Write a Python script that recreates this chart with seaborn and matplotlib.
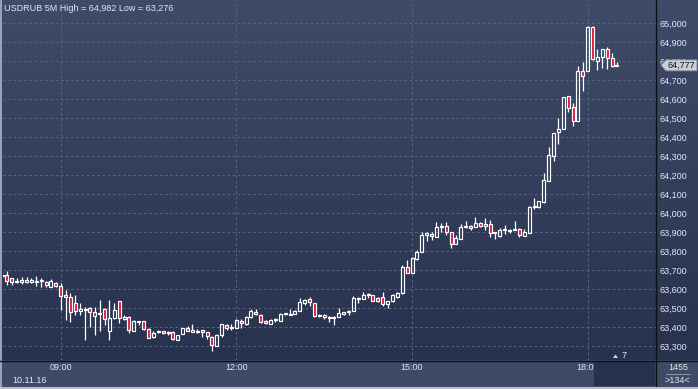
import numpy as np
import pandas as pd
import matplotlib
matplotlib.use("Agg")
import matplotlib.pyplot as plt
import seaborn as sns
from matplotlib.colors import LinearSegmentedColormap
from matplotlib.patches import Rectangle, Polygon

# ---------------- data ----------------
opens = [63.668, 63.674, 63.656, 63.639, 63.637, 63.639, 63.639, 63.644, 63.642, 63.635,
         63.612, 63.630, 63.616, 63.569, 63.556, 63.525, 63.486, 63.495, 63.502, 63.481,
         63.472, 63.493, 63.381, 63.446, 63.535, 63.444, 63.451, 63.381, 63.430, 63.432,
         63.388, 63.346, 63.374, 63.379, 63.370, 63.375, 63.332, 63.363, 63.393, 63.383,
         63.374, 63.384, 63.372, 63.349, 63.302, 63.358, 63.411, 63.395, 63.393, 63.432,
         63.416, 63.451, 63.481, 63.463, 63.432, 63.414, 63.435, 63.433, 63.467, 63.463,
         63.467, 63.486, 63.525, 63.546, 63.525, 63.458, 63.463, 63.454, 63.446, 63.454,
         63.469, 63.479, 63.486, 63.547, 63.547, 63.570, 63.569, 63.551, 63.556, 63.519,
         63.539, 63.560, 63.577, 63.718, 63.686, 63.758, 63.796, 63.884, 63.889, 63.875,
         63.925, 63.932, 63.898, 63.835, 63.861, 63.928, 63.932, 63.925, 63.946, 63.933,
         63.940, 63.893, 63.881, 63.909, 63.905, 63.909, 63.914, 63.881, 63.895, 64.030,
         64.030, 64.056, 64.170, 64.302, 64.425, 64.442, 64.616, 64.556, 64.486, 64.747,
         64.749, 64.980, 64.802, 64.819, 64.861, 64.814, 64.772]
highs = [63.676, 63.695, 63.657, 63.656, 63.665, 63.665, 63.656, 63.668, 63.656, 63.642,
         63.651, 63.639, 63.630, 63.595, 63.577, 63.569, 63.525, 63.507, 63.507, 63.507,
         63.542, 63.498, 63.542, 63.528, 63.535, 63.463, 63.458, 63.437, 63.430, 63.432,
         63.393, 63.381, 63.384, 63.379, 63.381, 63.381, 63.358, 63.397, 63.407, 63.416,
         63.388, 63.384, 63.372, 63.353, 63.363, 63.414, 63.414, 63.414, 63.440, 63.440,
         63.458, 63.493, 63.493, 63.467, 63.435, 63.440, 63.446, 63.476, 63.476, 63.495,
         63.490, 63.551, 63.547, 63.556, 63.525, 63.468, 63.468, 63.458, 63.458, 63.498,
         63.481, 63.490, 63.563, 63.560, 63.583, 63.577, 63.569, 63.556, 63.583, 63.539,
         63.572, 63.583, 63.726, 63.753, 63.770, 63.805, 63.898, 63.898, 63.898, 63.951,
         63.946, 63.954, 63.902, 63.884, 63.942, 63.960, 63.937, 63.981, 63.951, 63.972,
         63.963, 63.902, 63.919, 63.937, 63.916, 63.960, 63.919, 63.914, 64.037, 64.077,
         64.063, 64.209, 64.349, 64.419, 64.498, 64.609, 64.616, 64.577, 64.774, 64.796,
         64.982, 64.982, 64.861, 64.861, 64.872, 64.844, 64.796]
lows = [63.666, 63.621, 63.621, 63.630, 63.626, 63.633, 63.630, 63.616, 63.612, 63.612,
        63.609, 63.609, 63.490, 63.437, 63.428, 63.463, 63.463, 63.332, 63.402, 63.358,
        63.381, 63.411, 63.332, 63.440, 63.419, 63.437, 63.370, 63.381, 63.411, 63.384,
        63.340, 63.340, 63.367, 63.363, 63.356, 63.332, 63.332, 63.363, 63.381, 63.374,
        63.367, 63.346, 63.337, 63.276, 63.302, 63.346, 63.384, 63.384, 63.393, 63.393,
        63.411, 63.446, 63.463, 63.423, 63.416, 63.414, 63.428, 63.432, 63.461, 63.461,
        63.467, 63.486, 63.516, 63.512, 63.454, 63.451, 63.440, 63.428, 63.411, 63.454,
        63.463, 63.463, 63.486, 63.528, 63.547, 63.553, 63.537, 63.530, 63.512, 63.502,
        63.533, 63.555, 63.574, 63.686, 63.686, 63.753, 63.793, 63.854, 63.858, 63.875,
        63.902, 63.884, 63.818, 63.835, 63.861, 63.919, 63.911, 63.925, 63.928, 63.911,
        63.875, 63.861, 63.875, 63.888, 63.893, 63.909, 63.875, 63.881, 63.893, 64.020,
        64.025, 64.051, 64.170, 64.276, 64.363, 64.442, 64.533, 64.460, 64.486, 64.642,
        64.749, 64.805, 64.753, 64.761, 64.758, 64.767, 64.772]
closes = [63.674, 63.642, 63.639, 63.644, 63.647, 63.647, 63.645, 63.639, 63.647, 63.621,
          63.642, 63.616, 63.565, 63.556, 63.477, 63.486, 63.495, 63.490, 63.477, 63.458,
          63.469, 63.440, 63.446, 63.490, 63.446, 63.454, 63.384, 63.430, 63.425, 63.388,
          63.344, 63.370, 63.379, 63.367, 63.375, 63.335, 63.356, 63.393, 63.381, 63.374,
          63.381, 63.374, 63.353, 63.305, 63.360, 63.414, 63.397, 63.402, 63.437, 63.419,
          63.451, 63.484, 63.469, 63.428, 63.419, 63.437, 63.440, 63.469, 63.472, 63.469,
          63.484, 63.530, 63.542, 63.530, 63.458, 63.461, 63.451, 63.446, 63.453, 63.472,
          63.477, 63.484, 63.551, 63.554, 63.569, 63.572, 63.539, 63.539, 63.519, 63.537,
          63.569, 63.577, 63.718, 63.686, 63.761, 63.793, 63.884, 63.893, 63.879, 63.928,
          63.932, 63.898, 63.835, 63.867, 63.925, 63.933, 63.919, 63.946, 63.932, 63.942,
          63.893, 63.898, 63.911, 63.914, 63.911, 63.914, 63.884, 63.898, 64.030, 64.035,
          64.063, 64.174, 64.305, 64.419, 64.442, 64.609, 64.551, 64.484, 64.747, 64.723,
          64.978, 64.809, 64.823, 64.861, 64.814, 64.774, 64.778]

y_ticks = [63.3, 63.4, 63.5, 63.6, 63.7, 63.8, 63.9, 64.0, 64.1, 64.2, 64.3,
           64.4, 64.5, 64.6, 64.7, 64.8, 64.9, 65.0]
y_labels = ["63,300", "63,400", "63,500", "63,600", "63,700", "63,800", "63,900",
            "64,000", "64,100", "64,200", "64,300", "64,400", "64,500", "64,600",
            "64,700", "64,800", "64,900", "65,000"]
x_tick_pos = [12, 48, 84, 120]          # candle index of 09:00, 12:00, 15:00, 18:00
x_tick_labels = ["09:00", "12:00", "15:00", "18:00"]
title_text = "USDRUB 5M High = 64,982 Low = 63,276"
date_text = "10.11.16"
last_price_text = "64,777"
last_price = 64.777
corner_top = "1455"
corner_bottom = ">134<"
badge_text = "7"

df = pd.DataFrame({"open": opens, "high": highs, "low": lows, "close": closes})
df["i"] = np.arange(len(df))

# ---------------- styling ----------------
sns.set_theme(style="dark")
plt.rcParams['font.family'] = ['Liberation Sans', 'DejaVu Sans']

W, H = 698, 389
fig = plt.figure(figsize=(W / 100, H / 100), dpi=100)
fig.patch.set_facecolor("#3a4763")

TXT = "#e2e8f2"
RED = "#e0143c"
FS = 6.5

# background axes in pixel coordinates
bg = fig.add_axes([0, 0, 1, 1], zorder=0)
bg.set_xlim(0, W)
bg.set_ylim(H, 0)
bg.axis("off")
grad = np.linspace(0, 1, 256).reshape(-1, 1)
cmap = LinearSegmentedColormap.from_list("bg", ["#3f4b68", "#28324f"])
bg.imshow(grad, aspect="auto", cmap=cmap, extent=(0, W, 360, 0), origin="upper")
bg.add_patch(Rectangle((0, 360), W, 29, color="#3d4b66", lw=0))

# main chart axes
L_PX, R_PX, T_PX, B_PX = 3, 656, 0, 360
ax = fig.add_axes([L_PX / W, 1 - B_PX / H, (R_PX - L_PX) / W, (B_PX - T_PX) / H], zorder=1)
ax.set_facecolor("none")
for s in ax.spines.values():
    s.set_visible(False)

px_per_candle = 4.88
x0_px = 2.1
ax.set_xlim((L_PX - x0_px) / px_per_candle, (R_PX - x0_px) / px_per_candle)
ax.set_ylim(65.0 - (360 - 23) / 190.0, 65.0 + 23 / 190.0)

ax.set_yticks(y_ticks)
ax.set_yticklabels(y_labels)
ax.yaxis.tick_right()
ax.set_xticks(x_tick_pos)
ax.set_xticklabels(x_tick_labels)
ax.tick_params(axis="y", length=0, pad=2.3, labelsize=FS, labelcolor=TXT)
ax.tick_params(axis="x", length=0, pad=2.0, labelsize=FS, labelcolor=TXT)
ax.grid(True, color="#57647f", linestyle=(0, (2.5, 2.5)), linewidth=0.75)
ax.set_axisbelow(True)

# candles
x = df["i"].to_numpy()
o = df["open"].to_numpy(); c = df["close"].to_numpy()
h = df["high"].to_numpy(); lo = df["low"].to_numpy()
top = np.maximum(o, c); bot = np.minimum(o, c)
up = c >= o
ax.vlines(x, top, h, color="white", lw=0.9, zorder=3)
ax.vlines(x, lo, bot, color="white", lw=0.9, zorder=3)
body = np.maximum(top - bot, 0.002)
ax.bar(x[up], body[up], bottom=bot[up], width=0.62, facecolor="none",
       edgecolor="white", linewidth=0.85, zorder=4)
ax.bar(x[~up], body[~up], bottom=bot[~up], width=0.62, facecolor=RED,
       edgecolor="white", linewidth=0.85, zorder=4)

# overlay axes in pixel coordinates
ov = fig.add_axes([0, 0, 1, 1], zorder=5)
ov.set_xlim(0, W)
ov.set_ylim(H, 0)
ov.axis("off")
ov.patch.set_alpha(0)

# dark box bottom right of plot
ov.add_patch(Rectangle((593.5, 361), 61, 25, color="#27314b", lw=0))
# frame lines
ov.plot([0, W], [360.5, 360.5], color="#0b0f18", lw=1.0)
ov.plot([656, 656], [0, 386], color="#0b0f18", lw=1.0)
ov.add_patch(Rectangle((0, 0), 2.2, H, color="#9aa3b5", lw=0))
ov.add_patch(Rectangle((0, 386.5), W, 3, color="#b9c1cd", lw=0))

# title and date
ov.text(3.5, 8.5, title_text, color=TXT, fontsize=FS, ha="left", va="center")
ov.text(12, 380.5, date_text, color=TXT, fontsize=FS, ha="left", va="center")

# last price box
py = 23 + (65.0 - last_price) * 190
ov.add_patch(Polygon([[661, py], [666, py - 5.5], [697, py - 5.5], [697, py + 5.5], [666, py + 5.5]],
                     closed=True, facecolor="#c9ced7", edgecolor="#7d8596", lw=0.6))
ov.text(681.5, py + 0.3, last_price_text, color="#111111", fontsize=FS, ha="center", va="center")

# bottom-right counters
ov.text(678, 367, corner_top, color=TXT, fontsize=FS, ha="center", va="center")
ov.plot([666, 690], [374, 374], color="#8190a8", lw=0.8)
ov.text(677, 380.5, corner_bottom, color=TXT, fontsize=FS, ha="center", va="center")

# small badge
ov.add_patch(Polygon([[613, 358], [618, 358], [615.5, 354.5]], closed=True,
                     facecolor="#d0d6e0", edgecolor="none"))
ov.text(624.5, 355.5, badge_text, color=TXT, fontsize=FS, ha="center", va="center")

fig.savefig("out.png", dpi=100)
